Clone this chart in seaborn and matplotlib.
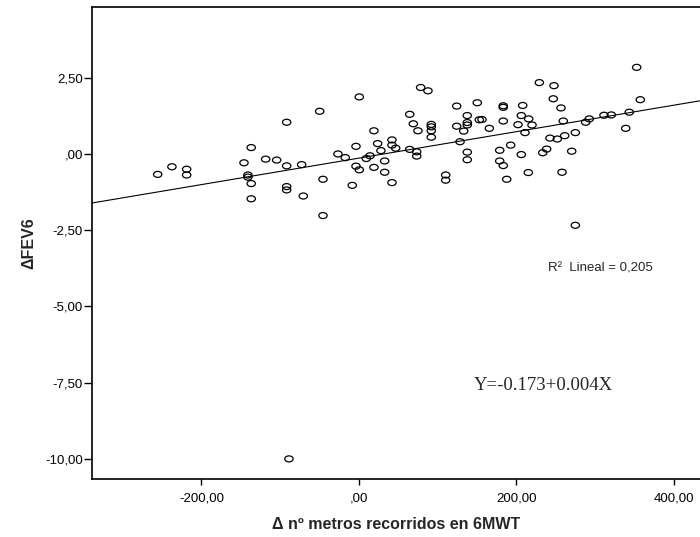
import numpy as np
import pandas as pd
import matplotlib
matplotlib.use("Agg")
import matplotlib.pyplot as plt
import matplotlib.transforms as mtransforms
from matplotlib.path import Path
import seaborn as sns

# ===== DATA =====
delta_metros = [
    -255.6, -237.5, -218.8, -218.8, -146.0, -141.0, -141.0, -136.8, -136.8, -136.8,
    -118.5, -104.5, -91.8, -91.8, -91.8, -91.8, -72.8, -70.7, -49.9, -45.7,
    -45.7, -26.7, -17.4, -8.5, -3.8, -3.8, 0.4, 0.4, 9.3, 14.0,
    19.0, 19.0, 23.7, 27.9, 32.6, 32.6, 41.9, 41.9, 41.9, 46.6,
    64.4, 64.4, 69.0, 73.3, 73.3, 74.9, 78.3, 87.6, 91.8, 91.8,
    91.8, 91.8, 110.1, 110.1, 124.1, 124.1, 128.3, 133.0, 137.5, 137.5,
    137.5, 137.5, 137.5, 150.2, 152.8, 156.2, 165.5, 178.7, 178.7, 183.2,
    183.2, 183.2, 183.2, 187.6, 192.6, 201.9, 206.1, 206.1, 207.9, 210.8,
    215.0, 215.5, 219.7, 229.0, 233.3, 238.3, 242.5, 246.7, 247.6, 251.8,
    256.5, 257.8, 259.4, 261.2, 270.1, 274.7, 274.7, 287.9, 292.4, 311.1,
    320.4, 338.7, 343.2, 352.6, 357.2, -88.9,
]
delta_fev6 = [
    -0.67, -0.42, -0.50, -0.69, -0.29, -0.69, -0.76, 0.21, -0.97, -1.47,
    -0.17, -0.20, 1.04, -0.39, -1.07, -1.18, -0.35, -1.38, 1.40, -0.83,
    -2.02, 0.00, -0.12, -1.03, 0.25, -0.40, 1.87, -0.52, -0.15, -0.06,
    0.76, -0.44, 0.34, 0.11, -0.23, -0.60, 0.46, 0.29, -0.94, 0.19,
    1.30, 0.15, 0.99, 0.07, -0.07, 0.76, 2.18, 2.07, 0.97, 0.89,
    0.76, 0.55, -0.69, -0.86, 1.57, 0.91, 0.40, 0.75, 1.26, 1.03,
    0.95, 0.06, -0.19, 1.68, 1.12, 1.13, 0.84, 0.12, -0.23, 1.58,
    1.53, 1.08, -0.38, -0.83, 0.29, 0.96, 1.26, -0.02, 1.59, 0.70,
    -0.61, 1.15, 0.95, 2.34, 0.04, 0.16, 0.52, 1.81, 2.24, 0.49,
    1.51, -0.60, 1.08, 0.60, 0.09, 0.70, -2.34, 1.04, 1.15, 1.27,
    1.28, 0.84, 1.37, 2.84, 1.78, -10.00,
]

x_ticks = [-200, 0, 200, 400]
x_tick_labels = ["-200,00", ",00", "200,00", "400,00"]
y_ticks = [2.5, 0, -2.5, -5, -7.5, -10]
y_tick_labels = ["2,50", ",00", "-2,50", "-5,00", "-7,50", "-10,00"]

df = pd.DataFrame({"metros": delta_metros, "fev6": delta_fev6})

# ===== STYLE =====
sns.set_style("ticks")
plt.rcParams["font.family"] = ["Liberation Sans", "DejaVu Sans"]

fig = plt.figure(figsize=(7.0, 5.37), dpi=100)
ax = fig.add_axes([0.1314, 0.108, 0.8686, 0.879])
ax.set_xlim(-339, 433)
ax.set_ylim(-10.66, 4.82)

# SPSS draws slightly squashed circles
ellipse = Path.unit_circle().transformed(mtransforms.Affine2D().scale(1.0, 0.72))

sns.scatterplot(data=df, x="metros", y="fev6", ax=ax, marker=ellipse, s=36,
                facecolor="none", edgecolor="black", linewidth=0.9, zorder=3)
sns.regplot(data=df, x="metros", y="fev6", ax=ax, scatter=False, ci=None,
            truncate=False, line_kws=dict(color="black", linewidth=0.8))

# ===== AXES =====
ax.set_xticks(x_ticks)
ax.set_xticklabels(x_tick_labels)
ax.set_yticks(y_ticks)
ax.set_yticklabels(y_tick_labels)
ax.tick_params(axis="both", direction="out", width=1.0, labelsize=9.5,
               color="black", labelcolor="black")
ax.tick_params(axis="x", bottom=True, length=4, pad=5.5)
ax.tick_params(axis="y", left=True, length=6, pad=0.5)
for side in ["left", "bottom", "top"]:
    ax.spines[side].set_visible(True)
    ax.spines[side].set_color("black")
    ax.spines[side].set_linewidth(1.2)
ax.spines["right"].set_visible(False)

ax.set_xlabel("Δ nº metros recorridos en 6MWT", fontsize=11.5, fontweight="bold", labelpad=9)
ax.set_ylabel("ΔFEV6", fontsize=11.5, fontweight="bold", labelpad=6)

# ===== ANNOTATIONS =====
ax.text(0.75, 0.447, "R²  Lineal = 0,205", transform=ax.transAxes,
        fontsize=9.5, va="center", ha="left")
ax.text(0.628, 0.199, "Y=-0.173+0.004X", transform=ax.transAxes,
        fontsize=13.5, va="center", ha="left",
        family=["Liberation Serif", "DejaVu Serif"])

fig.savefig("out.png", dpi=100)
